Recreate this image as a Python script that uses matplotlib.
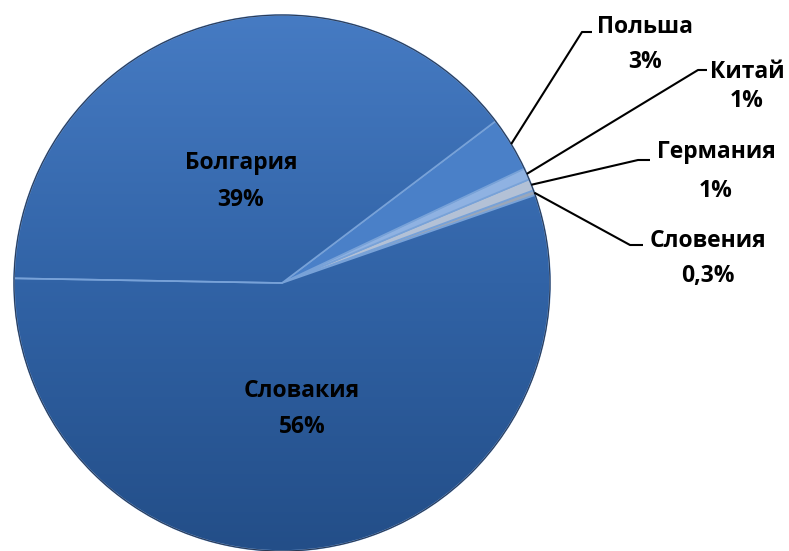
import numpy as np
import matplotlib
matplotlib.use('Agg')
import matplotlib.pyplot as plt
from matplotlib.colors import LinearSegmentedColormap

plt.rcParams['font.family'] = ['Open Sans', 'DejaVu Sans']

# данные
countries = ['Словакия', 'Словения', 'Германия', 'Китай', 'Польша', 'Болгария']
shares = [55.6, 0.3, 0.7, 0.7, 3.3, 39.4]
pct_labels = ['56%', '0,3%', '1%', '1%', '3%', '39%']
colors = ['#3366aa', '#9aa7ba', '#b3c1d6', '#8fb2e2', '#4a80c8', '#3a6db3']

W, H = 789, 551
CX, CY, R = 282, H - 283, 268

fig = plt.figure(figsize=(W / 100, H / 100), dpi=100)
ax = fig.add_axes([0, 0, 1, 1])

wedges, _ = ax.pie(shares, colors=colors, startangle=179, counterclock=True,
                   center=(CX, CY), radius=R,
                   wedgeprops=dict(edgecolor='#78a2d8', linewidth=1.2))

# градиент на больших секторах
grad = np.linspace(0, 1, 256).reshape(-1, 1)
cmap = LinearSegmentedColormap.from_list('pie', ['#234e88', '#3163a6', '#467bc3'])
for i in (0, 5):
    w = wedges[i]
    w.set_facecolor('none')
    w.set_zorder(3)
    im = ax.imshow(grad, extent=(CX - R, CX + R, CY - R, CY + R), origin='lower',
                   cmap=cmap, aspect='auto', zorder=2, interpolation='bilinear')
    im.set_clip_path(w)

# тонкий контур круга
ax.add_patch(plt.Circle((CX, CY), R, fill=False, edgecolor='#2a3a55', lw=0.8, zorder=4))

txt = dict(fontsize=16.5, fontweight='bold', color='black', ha='center', va='baseline', zorder=6)

# подписи внутри
ax.text(241, H - 169, countries[5], **txt)
ax.text(241, H - 206, pct_labels[5], **txt)
ax.text(302, H - 397, countries[0], **txt)
ax.text(302, H - 433, pct_labels[0], **txt)

# выноски: (индекс, излом, конец линии, центр текста, базовая линия названия, базовая линия %)
callouts = [
    (4, (582, 32), (592, 32), 645, 33, 68),
    (3, (698, 70), (707, 70), 747, 78, 107),
    (2, (638, 160), (650, 160), 716, 158, 197),
    (1, (630, 245), (643, 245), 708, 247, 282),
]
for i, elbow, end, tx, yb1, yb2 in callouts:
    w = wedges[i]
    ang = np.deg2rad((w.theta1 + w.theta2) / 2)
    sx, sy = CX + R * np.cos(ang), CY + R * np.sin(ang)
    ax.plot([sx, elbow[0], end[0]], [sy, H - elbow[1], H - end[1]],
            color='black', lw=1.5, zorder=5, solid_capstyle='butt')
    ax.text(tx, H - yb1, countries[i], **txt)
    ax.text(tx, H - yb2, pct_labels[i], **txt)

ax.set_xlim(0, W)
ax.set_ylim(0, H)
ax.set_aspect('auto')
ax.axis('off')

fig.savefig('out.png', dpi=100)
